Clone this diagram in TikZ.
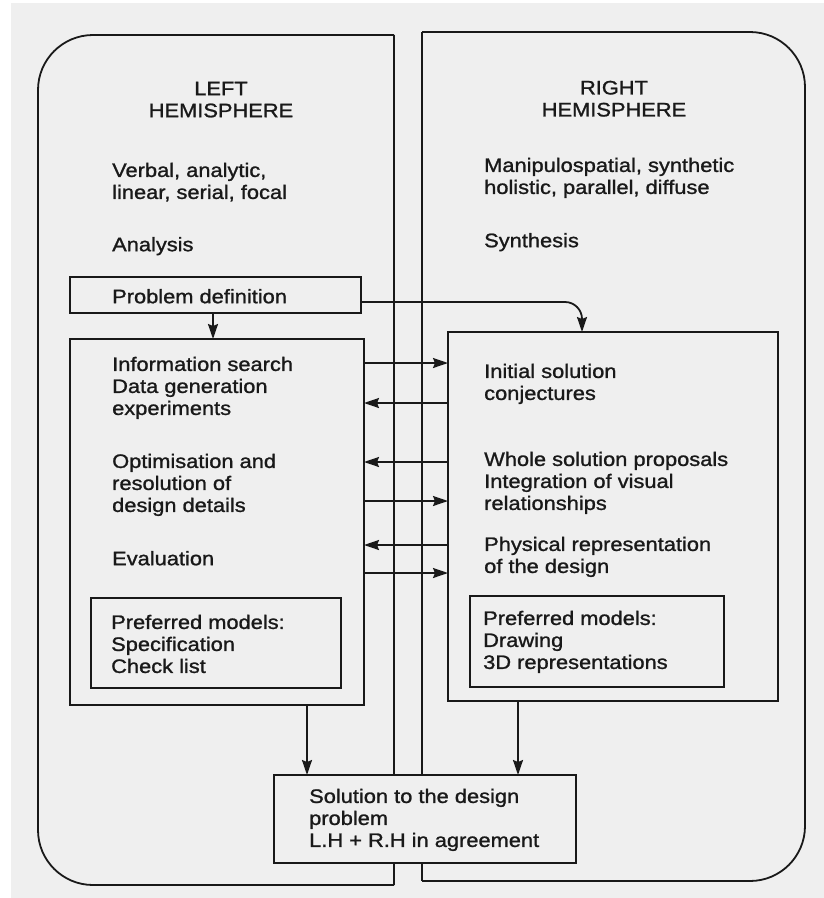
\documentclass[tikz,border=0pt]{standalone}
\usepackage{fontspec}
\setmainfont{Liberation Sans}[FakeStretch=1.12,FakeBold=1.2]
\usetikzlibrary{arrows.meta}
\definecolor{paper}{RGB}{239,239,239}
\definecolor{ink}{RGB}{25,25,25}
\begin{document}
\begin{tikzpicture}[x=1pt,y=-1pt,
  line/.style={draw=ink,line width=1.8pt},
  box/.style={line,inner sep=0pt,outer sep=0pt},
  arr/.style={draw=ink,line width=1.8pt,-{Stealth[length=15pt,width=10pt,inset=2pt]}},
  txt/.style={anchor=north west,inner sep=0pt,align=left,text=ink,
    font=\fontsize{19.5}{22}\selectfont,execute at begin node=\strut},
  head/.style={txt,anchor=north,align=center}]
% paper
\fill[white] (0,0) rectangle (824,898);
\fill[paper] (11,3) rectangle (824,898);
\useasboundingbox (0,0) rectangle (824,898);

% the two hemisphere panels
\draw[line,rounded corners=55pt] (394,35) -- (38,35) -- (38,885) -- (394,885);
\draw[line] (394,35) -- (394,885);
\draw[line,rounded corners=55pt] (422,32) -- (805,32) -- (805,881) -- (422,881);
\draw[line] (422,32) -- (422,881);

% headings and descriptions
\node[head] (lh) at (221,81.6) {LEFT\\HEMISPHERE};
\node[head] (rh) at (614,80.6) {RIGHT\\HEMISPHERE};
\node[txt] (verbal) at (112,162.6) {Verbal, analytic,\\linear, serial, focal};
\node[txt] (manip) at (484,157.6) {Manipulospatial, synthetic\\holistic, parallel, diffuse};
\node[txt] (analysis) at (112,235.6) {Analysis};
\node[txt] (synthesis) at (484,231.6) {Synthesis};

% boxes
\node[box,minimum width=291pt,minimum height=36pt] (pd) at (215.5,295) {};
\node[box,minimum width=294pt,minimum height=366pt] (lbig) at (217,522) {};
\node[box,minimum width=330pt,minimum height=369pt] (rbig) at (613,516.5) {};
\node[box,minimum width=250pt,minimum height=90pt] (lpref) at (216,643) {};
\node[box,minimum width=254pt,minimum height=91pt] (rpref) at (597,641.5) {};
\node[box,fill=paper,minimum width=302pt,minimum height=88pt] (sol) at (425,819) {};

% box texts
\node[txt] (pdt) at (112,287.6) {Problem definition};
\node[txt] (info) at (112,356.6) {Information search\\Data generation\\experiments};
\node[txt] (optim) at (112,453.6) {Optimisation and\\resolution of\\design details};
\node[txt] (evalu) at (112,549.6) {Evaluation};
\node[txt] (init) at (484,363.6) {Initial solution\\conjectures};
\node[txt] (whole) at (484,451.6) {Whole solution proposals\\Integration of visual\\relationships};
\node[txt] (phys) at (484,536.6) {Physical representation\\of the design};
\node[txt] (lpt) at (111,614.6) {Preferred models:\\Specification\\Check list};
\node[txt] (rpt) at (483,610.6) {Preferred models:\\Drawing\\3D representations};
\node[txt] (solt) at (309,788.6) {Solution to the design\\problem\\L.H + R.H in agreement};

% connectors
\draw[arr] ([xshift=-2.5pt]pd.south) -- ([xshift=-2.5pt]pd.south |- lbig.north);
\draw[arr,rounded corners=17pt] (pd.east |- 0,302) -| ([xshift=-31pt]rbig.north);
\draw[arr] (lbig.east |- 0,363) -- (rbig.west |- 0,363);
\draw[arr] (rbig.west |- 0,403) -- (lbig.east |- 0,403);
\draw[arr] (rbig.west |- 0,462) -- (lbig.east |- 0,462);
\draw[arr] (lbig.east |- 0,501) -- (rbig.west |- 0,501);
\draw[arr] (rbig.west |- 0,545) -- (lbig.east |- 0,545);
\draw[arr] (lbig.east |- 0,573) -- (rbig.west |- 0,573);
\draw[arr] ([xshift=90pt]lbig.south) -- ([xshift=90pt]lbig.south |- sol.north);
\draw[arr] ([xshift=-95pt]rbig.south) -- ([xshift=-95pt]rbig.south |- sol.north);
\end{tikzpicture}
\end{document}
